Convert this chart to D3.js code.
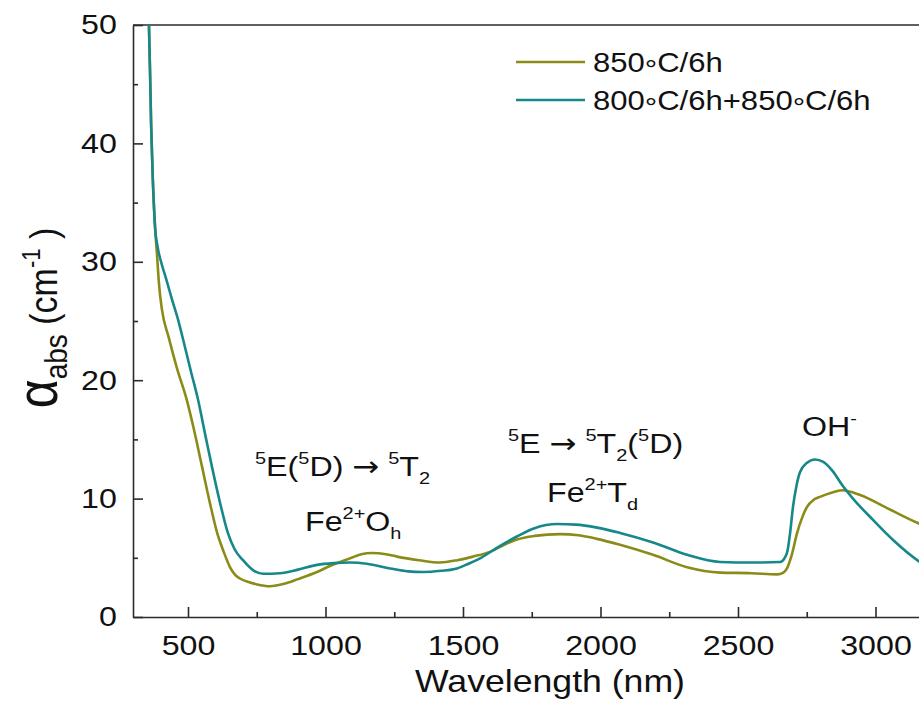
<!DOCTYPE html>
<html>
<head>
<meta charset="utf-8">
<script src="https://cdn.jsdelivr.net/npm/d3@7"></script>
<style>
  body { margin: 0; background: #fff; }
  svg { display: block; font-family: "Liberation Sans", Arial, sans-serif; }
  .axis path, .axis line { stroke: #2b2b2b; stroke-width: 1.6px; }
  .axis text { fill: #111; font-size: 28px; font-family: "Liberation Sans", Arial, sans-serif; }
  .arrow { font-family: "DejaVu Sans", sans-serif; }
</style>
</head>
<body>
<div id="chart"></div>
<script>
// sample 850°C/6h
var wl850 = [352, 358, 362, 366, 372, 380, 387, 395, 405, 430, 460, 496, 520, 551, 580, 606, 630, 653, 670, 689, 720, 751, 798, 850, 900, 969, 1020, 1089, 1130, 1170, 1220, 1260, 1340, 1416, 1480, 1536, 1598, 1650, 1696, 1760, 1853, 1920, 1987, 2071, 2191, 2315, 2435, 2550, 2642, 2665, 2678, 2695, 2715, 2735, 2751, 2775, 2798, 2840, 2878, 2944, 3042, 3158, 3200];
var ab850 = [54, 50, 46, 41.5, 37, 33, 30.7, 28, 26, 23.6, 21.0, 18.3, 16.0, 12.7, 9.6, 7.1, 5.5, 4.2, 3.6, 3.25, 2.95, 2.75, 2.6, 2.8, 3.2, 3.8, 4.35, 4.95, 5.3, 5.4, 5.3, 5.1, 4.8, 4.6, 4.8, 5.1, 5.5, 6.1, 6.55, 6.85, 7.0, 6.9, 6.6, 6.1, 5.25, 4.2, 3.75, 3.7, 3.6, 3.75, 4.1, 5.2, 7.1, 8.5, 9.3, 9.9, 10.15, 10.5, 10.7, 10.3, 9.2, 7.9, 7.5];

// sample 800°C/6h+850°C/6h
var wl800 = [352, 358, 362, 366, 372, 380, 390, 402, 420, 442, 464, 490, 510, 537, 560, 587, 615, 645, 670, 700, 740, 773, 834, 900, 969, 1030, 1089, 1150, 1235, 1300, 1355, 1420, 1478, 1520, 1562, 1620, 1696, 1760, 1842, 1910, 1987, 2071, 2191, 2315, 2435, 2550, 2653, 2670, 2680, 2690, 2700, 2712, 2725, 2750, 2780, 2810, 2845, 2880, 2918, 2991, 3064, 3158, 3200];
var ab800 = [54, 50, 46, 41.5, 37, 33, 31.2, 30.0, 28.6, 26.8, 25.1, 22.7, 20.8, 18.3, 15.7, 12.7, 9.8, 7.1, 5.7, 4.8, 3.9, 3.65, 3.7, 4.0, 4.4, 4.55, 4.6, 4.5, 4.1, 3.85, 3.8, 3.9, 4.1, 4.5, 4.95, 5.8, 6.8, 7.5, 7.85, 7.8, 7.55, 7.1, 6.3, 5.25, 4.65, 4.6, 4.65, 5.0, 5.6, 7.2, 9.3, 11.0, 12.2, 13.0, 13.3, 13.1, 12.3, 11.1, 10.0, 8.2, 6.5, 4.7, 4.1];

var seriesNames = ["850\u00b0C/6h", "800\u00b0C/6h+850\u00b0C/6h"];
var seriesColors = ["#8b8b19", "#17888a"];

var xMajor = [500, 1000, 1500, 2000, 2500, 3000];
var xMinor = [750, 1250, 1750, 2250, 2750, 3250];
var yMajor = [0, 10, 20, 30, 40, 50];
var yMinor = [5, 15, 25, 35, 45];

var W = 919, H = 702;
var plotLeft = 133, plotTop = 25, plotBottom = 617;
var sx = 1.15; // text in the picture is a bit wide

var x = d3.scaleLinear().domain([300, 3200]).range([plotLeft, plotLeft + 2900 * 0.275]);
var y = d3.scaleLinear().domain([0, 50]).range([plotBottom, plotTop]);

var svg = d3.select("#chart").append("svg").attr("width", W).attr("height", H);

svg.append("clipPath").attr("id", "plot")
  .append("rect").attr("x", plotLeft).attr("y", plotTop).attr("width", W - plotLeft).attr("height", plotBottom - plotTop);

// frame top
svg.append("line").attr("x1", plotLeft).attr("x2", W).attr("y1", plotTop).attr("y2", plotTop)
  .attr("stroke", "#2b2b2b").attr("stroke-width", 1.6);

var xAxis = svg.append("g").attr("class", "axis")
  .attr("transform", "translate(0," + plotBottom + ")")
  .call(d3.axisBottom(x).tickValues(xMajor).tickFormat(d3.format("d"))
    .tickSizeInner(-10).tickSizeOuter(0).tickPadding(18));
xAxis.selectAll("text").attr("transform", "scale(" + sx + ",1)");

svg.append("g").attr("class", "axis")
  .attr("transform", "translate(0," + plotBottom + ")")
  .call(d3.axisBottom(x).tickValues(xMinor).tickSizeInner(-5).tickSizeOuter(0).tickFormat(""))
  .select(".domain").remove();

var yAxis = svg.append("g").attr("class", "axis")
  .attr("transform", "translate(" + plotLeft + ",0)")
  .call(d3.axisLeft(y).tickValues(yMajor).tickFormat(d3.format("d"))
    .tickSizeInner(-10).tickSizeOuter(0).tickPadding(14));
yAxis.selectAll("text").attr("transform", "scale(" + sx + ",1)");

svg.append("g").attr("class", "axis")
  .attr("transform", "translate(" + plotLeft + ",0)")
  .call(d3.axisLeft(y).tickValues(yMinor).tickSizeInner(-5).tickSizeOuter(0).tickFormat(""))
  .select(".domain").remove();

// curves
var line = d3.line()
  .x(function(d) { return x(d[0]); })
  .y(function(d) { return y(d[1]); })
  .curve(d3.curveMonotoneX);

var series = [d3.zip(wl850, ab850), d3.zip(wl800, ab800)];
svg.append("g").attr("clip-path", "url(#plot)")
  .selectAll("path").data(series).enter().append("path")
  .attr("d", line)
  .attr("fill", "none")
  .attr("stroke", function(d, i) { return seriesColors[i]; })
  .attr("stroke-width", 2.6);

// text with super/subscripts
function rich(px, py, size, parts, anchor) {
  var t = svg.append("text")
    .attr("transform", "translate(" + px + "," + py + ") scale(" + sx + ",1)")
    .attr("font-size", size).attr("fill", "#111")
    .attr("text-anchor", anchor || "start");
  var shift = 0;
  parts.forEach(function(p) {
    var target = p.sup ? -0.42 * size : p.sub ? 0.3 * size : (p.shift || 0);
    var s = t.append("tspan").text(p.t).attr("dy", target - shift);
    if (p.sup || p.sub) s.attr("font-size", size * 0.62);
    if (p.cls) s.attr("class", p.cls);
    shift = target;
  });
  return t;
}

// legend
seriesNames.forEach(function(name, i) {
  var ly = 62 + i * 38;
  svg.append("line").attr("x1", 516).attr("x2", 585).attr("y1", ly).attr("y2", ly)
    .attr("stroke", seriesColors[i]).attr("stroke-width", 2.6);
  var bits = name.split("\u00b0");
  var parts = [];
  bits.forEach(function(b, k) {
    parts.push({ t: b });
    if (k < bits.length - 1) parts.push({ t: "\u00b0", shift: 7 });
  });
  rich(593, ly + 10, 27, parts);
});

// axis titles
svg.append("text")
  .attr("transform", "translate(550,692) scale(" + sx + ",1)")
  .attr("text-anchor", "middle").attr("font-size", 31).attr("fill", "#111")
  .text("Wavelength (nm)");

var yt = svg.append("text")
  .attr("transform", "translate(57,318) rotate(-90) scale(1," + sx + ")")
  .attr("text-anchor", "middle").attr("font-size", 34).attr("fill", "#111");
yt.append("tspan").text("\u03b1").attr("font-size", 50);
yt.append("tspan").text("abs").attr("font-size", 28).attr("dy", 9);
yt.append("tspan").text(" (cm").attr("dy", -9);
yt.append("tspan").text("-1").attr("font-size", 22).attr("dy", -15);
yt.append("tspan").text(" )").attr("dy", 15);

// band annotations
rich(255, 476, 28, [{ t: "5", sup: true }, { t: "E(" }, { t: "5", sup: true }, { t: "D) " },
  { t: "\u2192", cls: "arrow" }, { t: " " }, { t: "5", sup: true }, { t: "T" }, { t: "2", sub: true }]);
rich(305, 531, 28, [{ t: "Fe" }, { t: "2+", sup: true }, { t: "O" }, { t: "h", sub: true }]);
rich(508, 453, 28, [{ t: "5", sup: true }, { t: "E " }, { t: "\u2192", cls: "arrow" }, { t: " " },
  { t: "5", sup: true }, { t: "T" }, { t: "2", sub: true }, { t: "(" }, { t: "5", sup: true }, { t: "D)" }]);
rich(547, 502, 28, [{ t: "Fe" }, { t: "2+", sup: true }, { t: "T" }, { t: "d", sub: true }]);
rich(802, 436, 28, [{ t: "OH" }, { t: "-", sup: true }]);
</script>
</body>
</html>
